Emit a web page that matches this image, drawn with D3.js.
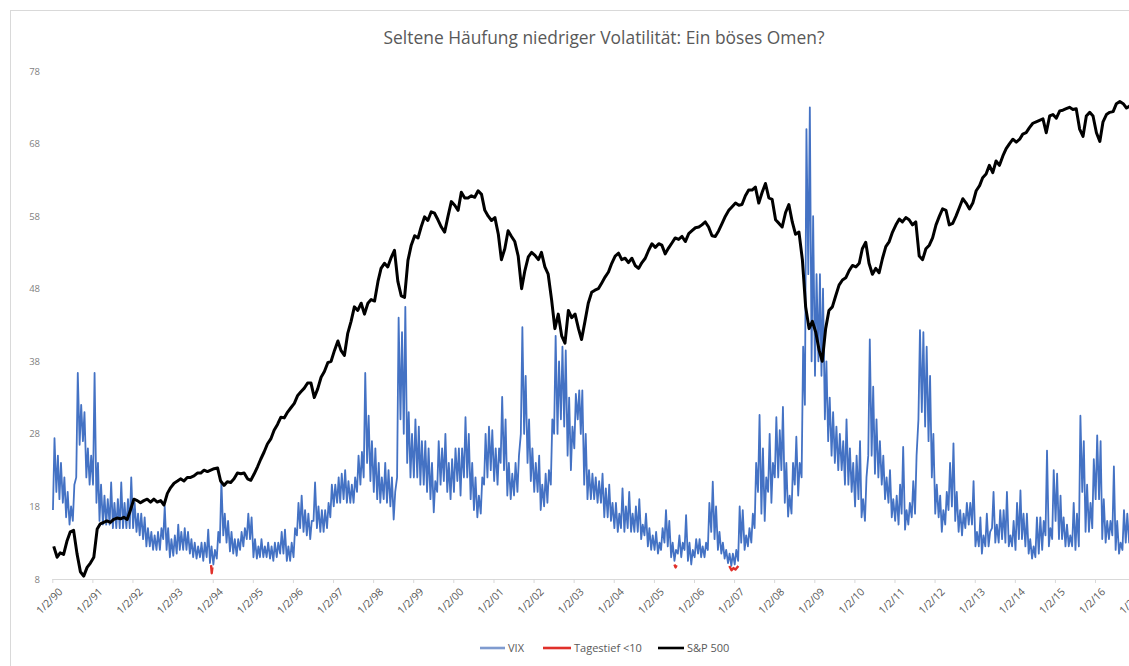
<!DOCTYPE html>
<html>
<head>
<meta charset="utf-8">
<script src="https://cdn.jsdelivr.net/npm/d3@7"></script>
<style>
  html, body { margin: 0; padding: 0; background: #fff; }
  svg { display: block; }
</style>
</head>
<body>
<svg id="chart" width="1129" height="666"></svg>
<script>
// ---------------- DATA ----------------
const title = "Seltene Häufung niedriger Volatilität: Ein böses Omen?";
const startYear = 1990;
const yTicks = [8, 18, 28, 38, 48, 58, 68, 78];
const xTickYears = d3.range(1990, 2018);
const xTickLabels = ["1/2/90","1/2/91","1/2/92","1/2/93","1/2/94","1/2/95","1/2/96","1/2/97","1/2/98","1/2/99",
  "1/2/00","1/2/01","1/2/02","1/2/03","1/2/04","1/2/05","1/2/06","1/2/07","1/2/08","1/2/09",
  "1/2/10","1/2/11","1/2/12","1/2/13","1/2/14","1/2/15","1/2/16","1/2/17"];
const seriesNames = ["VIX", "Tagestief <10", "S&P 500"];
const seriesColors = ["#4472C4", "#E0302A", "#000000"];

// VIX: monthly low / high (Jan 1990 .. Dec 2016)
const vixLow = [
  17.5,20,19,18.5,16.5,15.5,16,22,26.5,27,22,21,            // 1990
  21,18.5,16,15.5,15.5,15.5,15,15,15,15,15,15,              // 1991
  15,14.5,14,13.5,12.5,12.5,12,12,12,13.5,12,11,            // 1992
  11.2,11.5,12,12,12,11.5,11,10.8,11,10.5,11,10.2,          // 1993
  10,10.8,13,14,13,11.8,11.5,11.2,12,12.5,13.5,13.5,        // 1994
  11,10.8,11,11,11,10.8,10.5,11,11.5,11.5,10.5,10.5,        // 1995
  11,14,15,14.5,14,13.5,16,15,14.5,14.5,15,16.5,            // 1996
  18,18.5,18.5,19,18.5,18.5,18.5,20,21,22,24,21.5,          // 1997
  20,19,18.5,19,18.5,18,16.2,22,30,28,24,22,                // 1998
  22,22,21,21,20,19,17.2,20,21,21.5,20,19,                  // 1999
  20,21.5,19.5,22,22,19,17.5,16.5,17,21,22,23,              // 2000
  21.5,21,24,23,19.5,19,19.5,20,28,28,24,21.5,              // 2001
  20,20,17.5,18,18.5,21,28,28,30,29,25,23,                  // 2002
  26,30,28,21,19,19,19,18.5,18.5,16.5,16.5,16,              // 2003
  15,14.5,15,14.5,15,14.5,14.5,14.5,13.5,14,12.5,12,        // 2004
  12,11.5,12,13,12.5,11,10.5,11.5,11,12,10.5,10,            // 2005
  11,11.5,11,11,12,14.5,13.5,12,11.5,10.8,10.2,9.8,         // 2006
  10,10.5,13,12,12.5,13,15,20,17,16,20,18.5,                // 2007
  22,22,23,18.5,16.6,17,21,19.5,22,32,50,38,                // 2008
  36,38,36,30,27,25,24,23,23,21,21,20,                      // 2009
  18,19,16.5,16,25,25,22.5,22,21,19,18.5,16.5,              // 2010
  16,15.5,17,14.8,15.5,16.5,17,30,31,29,27,22,              // 2011
  17,16.5,14.5,15.5,17.5,18,16,14.5,14,15,15.5,15.5,        // 2012
  12.5,12.5,11.5,12.5,12.5,15,13,13,13.5,13,12.5,12.5,      // 2013
  12,13.5,13.5,12.5,11.5,10.8,11,11.5,12,14,12.5,13.5,      // 2014
  16,13.5,13.5,12.5,12.5,12.5,12,12.5,20,14.5,14.5,15,      // 2015
  19,19,13.5,13,13.5,14,12,11.5,12,13,13,11.5               // 2016
];
const vixHigh = [
  27.4,25,24,22,20,18,21,36.4,32,31,26,25,
  36.4,24,21,19.5,19,21.3,18.5,19,21.3,18.5,19,22,
  18.5,17,17,16.5,15,14.5,14,14.5,15,18,15,13.5,
  14,15.5,14.5,15,14.5,13.5,13,12.5,13,13,14.8,12.5,
  12,14.5,21.5,17,16,14.5,13.5,13.5,14.5,15,17,16.5,
  13.5,12.5,13.5,12.5,13,12.5,13,13,14.5,14.8,12.5,13,
  15,18.5,19.5,17.5,17,16,21.3,18,17.5,17.5,18.5,21,
  21,22,22.5,23,21.5,21,22,25,25.5,36.4,30.5,27,
  26,24,22,24,23,22,20,44,42,45.5,31,28,
  30,29,27,27,26,24,21.5,27,26,28,24,24.5,
  26,26,26,30.3,28,24,22,19.5,22,28,29,28.5,
  26,26,33.1,30,24,22.5,24,25,42.7,36,30,26,
  24,25,21,22.5,23,30,41.5,38,40,39.5,33,29,
  33.5,34,34,28,23,22.5,22,21.5,22.5,20.5,21,18.5,
  18.5,17,20.5,18,20,17,18,19,15.5,17,15,14,
  14.5,13,15,17.5,16,13,12,14,13,16.8,13,12,
  13.5,13.5,12.5,13,18.5,21.4,18,14.5,13,12,11.5,11.5,
  12,18,17.5,14,15,17,24,30.6,26,22,28,24,
  30.3,28.5,31.7,24,19.5,24,27.6,24,40,70,73,58,
  50,50,48,38,33,31,29,28,27,30,26,24,
  25,27,19,22,41,34.5,30,27,25,22,23,19,
  19.5,21,26.2,17.5,18.5,21.5,25,42.3,42,40,36,28,
  21,19.5,17.5,20,24,26.7,20,17.5,17,18.5,18.5,21.5,
  14.5,16.5,14,17,14.5,20,15.5,17.5,17.5,20,14,16,
  18.5,20.2,17,17,13.5,12.5,16.5,16.5,16,25.7,15,23,
  22.5,19.5,16.5,15.5,14,18.5,17,30.5,27,21,18.5,24.5,
  27.8,27,19,16,16,23.5,16,13,17.5,17,16,14
];

// S&P 500 drawn on the same axis (monthly, chart units)
const spx = [
  12.5,11.0,11.6,11.4,13.2,14.5,14.7,11.5,9.0,8.4,9.6,10.2,
  11.0,14.9,15.6,15.8,16.0,15.8,16.2,16.4,16.3,16.5,16.2,17.5,
  19.0,18.8,18.5,18.8,19.0,18.6,19.0,18.6,18.8,18.2,19.8,20.6,
  21.2,21.5,21.8,21.5,22.0,22.0,22.2,22.6,22.6,23.0,22.8,23.0,
  23.2,23.3,21.5,20.9,21.4,21.3,21.8,22.6,22.5,22.6,21.8,21.6,
  22.5,23.5,24.5,25.5,26.6,27.3,28.5,29.3,30.3,30.2,31.0,31.6,
  32.2,33.3,33.8,34.3,35.0,35.0,33.0,34.2,35.8,36.6,37.8,38.0,
  39.5,40.8,39.5,38.8,41.8,43.5,45.5,45.0,46.0,44.5,46.0,46.5,
  46.3,49.0,50.8,51.5,51.0,52.3,53.3,49.0,47.0,46.8,51.9,54.0,
  55.3,55.0,56.5,57.9,57.4,58.6,58.4,57.5,56.5,55.8,58.0,60.0,
  59.5,58.8,61.3,60.5,60.5,60.8,60.6,61.5,61.0,58.8,58.0,57.4,
  57.8,55.5,52.0,53.5,56.0,55.2,54.5,52.5,48.0,50.5,52.4,53.0,
  52.6,52.0,53.0,51.0,50.0,46.5,42.5,44.5,41.5,40.5,45.0,44.0,
  44.5,42.5,41.0,43.5,46.0,47.5,47.8,48.0,48.8,49.6,50.3,51.5,
  52.5,52.9,52.0,52.2,51.6,52.2,51.2,50.8,51.6,52.2,53.3,54.2,
  53.7,54.2,54.0,52.8,53.6,54.3,55.0,54.8,55.2,54.5,55.6,56.0,
  56.4,56.5,56.8,57.2,56.5,55.3,55.2,56.0,57.0,58.0,58.8,59.3,
  59.8,59.5,59.6,60.8,61.6,61.6,62.0,59.8,61.3,62.5,60.5,60.3,
  57.5,57.0,56.5,58.5,59.6,57.2,55.5,55.8,52.0,45.5,42.5,43.5,
  42.0,39.5,38.0,42.5,45.0,45.5,47.0,48.5,49.2,49.5,50.5,51.2,
  51.0,51.5,53.5,54.4,51.5,50.0,50.8,50.2,52.2,53.8,54.5,55.8,
  56.8,57.6,57.2,57.8,57.5,56.8,57.2,52.5,52.0,53.5,54.0,55.0,
  56.8,58.0,59.0,58.8,56.8,57.0,58.0,59.2,60.4,59.8,59.0,59.8,
  61.5,62.2,63.3,63.8,65.0,64.0,65.6,65.0,66.3,67.3,68.0,68.6,
  68.2,68.6,69.3,69.5,70.2,70.8,71.0,71.2,71.4,69.5,71.8,72.0,
  71.5,72.5,72.6,72.8,73.0,72.7,72.8,70.0,69.0,71.8,72.3,71.8,
  69.5,68.3,71.0,72.0,72.3,72.4,73.5,73.8,73.5,72.9,73.2,74.0
];

// VIX intraday lows below 10 (red), null separates episodes
const redDates = ["1993-12-18","1993-12-24","1993-12-30", null,
                  "2005-07-08","2005-07-18","2005-07-28", null,
                  "2006-11-20","2006-12-10","2006-12-28","2007-01-15","2007-02-10"];
const redValues = [9.9, 8.8, 9.6, null,
                   10.0, 9.6, 9.9, null,
                   9.8, 9.2, 9.5, 9.3, 9.8];

// ---------------- CHART ----------------
const svg = d3.select("#chart");
const W = 1129, H = 666;
const textColor = "#595959";
const font = "'Open Sans', 'Liberation Sans', sans-serif";

// chart frame (extends past the right/bottom edge, like the cropped original)
svg.append("rect").attr("x", 10.5).attr("y", 10.5).attr("width", 1400).attr("height", 800)
  .attr("fill", "#fff").attr("stroke", "#d9d9d9").attr("stroke-width", 1);

const x = d3.scaleTime()
  .domain([new Date(1990, 0, 2), new Date(2016, 0, 2)])
  .range([52.3, 1095]);
const y = d3.scaleLinear().domain([8, 78]).range([579, 71]);

// title
svg.append("text").attr("x", 604).attr("y", 44)
  .attr("text-anchor", "middle").attr("font-family", font).attr("font-size", 17.4)
  .attr("fill", textColor).text(title);

// y axis labels
svg.append("g").selectAll("text").data(yTicks).join("text")
  .attr("x", 40).attr("y", d => y(d) + 3.5)
  .attr("text-anchor", "end").attr("font-family", font).attr("font-size", 9.5)
  .attr("fill", "#7f7f7f").text(d => d);

// x axis
const tickDates = xTickYears.map(yr => new Date(yr, 0, 2));
const xAxis = d3.axisBottom(x).tickValues(tickDates).tickSize(4)
  .tickFormat((d, i) => xTickLabels[i]);
const gx = svg.append("g").attr("transform", `translate(0,${y(8)})`).call(xAxis);
gx.select(".domain").attr("stroke", "#d9d9d9").attr("d", `M52.3,0.5H1140`);
gx.selectAll(".tick line").attr("stroke", "#d9d9d9");
gx.selectAll(".tick text")
  .attr("font-family", font).attr("font-size", 10.5).attr("fill", textColor)
  .attr("text-anchor", "end")
  .attr("transform", "translate(5,8) rotate(-45)")
  .attr("dy", "0.35em").attr("y", 4).attr("x", 0);

// plot clip
svg.append("clipPath").attr("id", "plotclip").append("rect")
  .attr("x", 40).attr("y", 50).attr("width", W - 40).attr("height", 540);
const plot = svg.append("g").attr("clip-path", "url(#plotclip)");

// VIX points: low and high of each month
const vixPts = [];
vixLow.forEach((lo, i) => {
  const yr = startYear + Math.floor(i / 12), mo = i % 12;
  vixPts.push({ d: new Date(yr, mo, 8), v: lo });
  vixPts.push({ d: new Date(yr, mo, 22), v: vixHigh[i] });
});
const line = d3.line().x(p => x(p.d)).y(p => y(p.v));
plot.append("path").datum(vixPts).attr("d", line)
  .attr("fill", "none").attr("stroke", seriesColors[0]).attr("stroke-width", 1.8)
  .attr("stroke-linejoin", "round");

// red segments
const parse = d3.timeParse("%Y-%m-%d");
const redPts = redDates.map((d, i) => ({ d: d ? parse(d) : null, v: redValues[i] }));
plot.append("path").datum(redPts)
  .attr("d", d3.line().defined(p => p.d !== null).x(p => x(p.d)).y(p => y(p.v)))
  .attr("fill", "none").attr("stroke", seriesColors[1]).attr("stroke-width", 2.4)
  .attr("stroke-linejoin", "round");

// S&P 500
const spxPts = spx.map((v, i) => ({ d: new Date(startYear + Math.floor(i / 12), i % 12, 15), v }));
plot.append("path").datum(spxPts).attr("d", line)
  .attr("fill", "none").attr("stroke", seriesColors[2]).attr("stroke-width", 3)
  .attr("stroke-linejoin", "round");

// legend
const legendX = [480, 543, 658];
const legendW = [25, 28, 26];
const lg = svg.append("g");
seriesNames.forEach((name, i) => {
  lg.append("line").attr("x1", legendX[i]).attr("x2", legendX[i] + legendW[i])
    .attr("y1", 648).attr("y2", 648)
    .attr("stroke", i === 0 ? "#7f9bcf" : seriesColors[i]).attr("stroke-width", 2.6);
  lg.append("text").attr("x", legendX[i] + legendW[i] + 3).attr("y", 652)
    .attr("font-family", font).attr("font-size", 11).attr("fill", textColor).text(name);
});
</script>
</body>
</html>
